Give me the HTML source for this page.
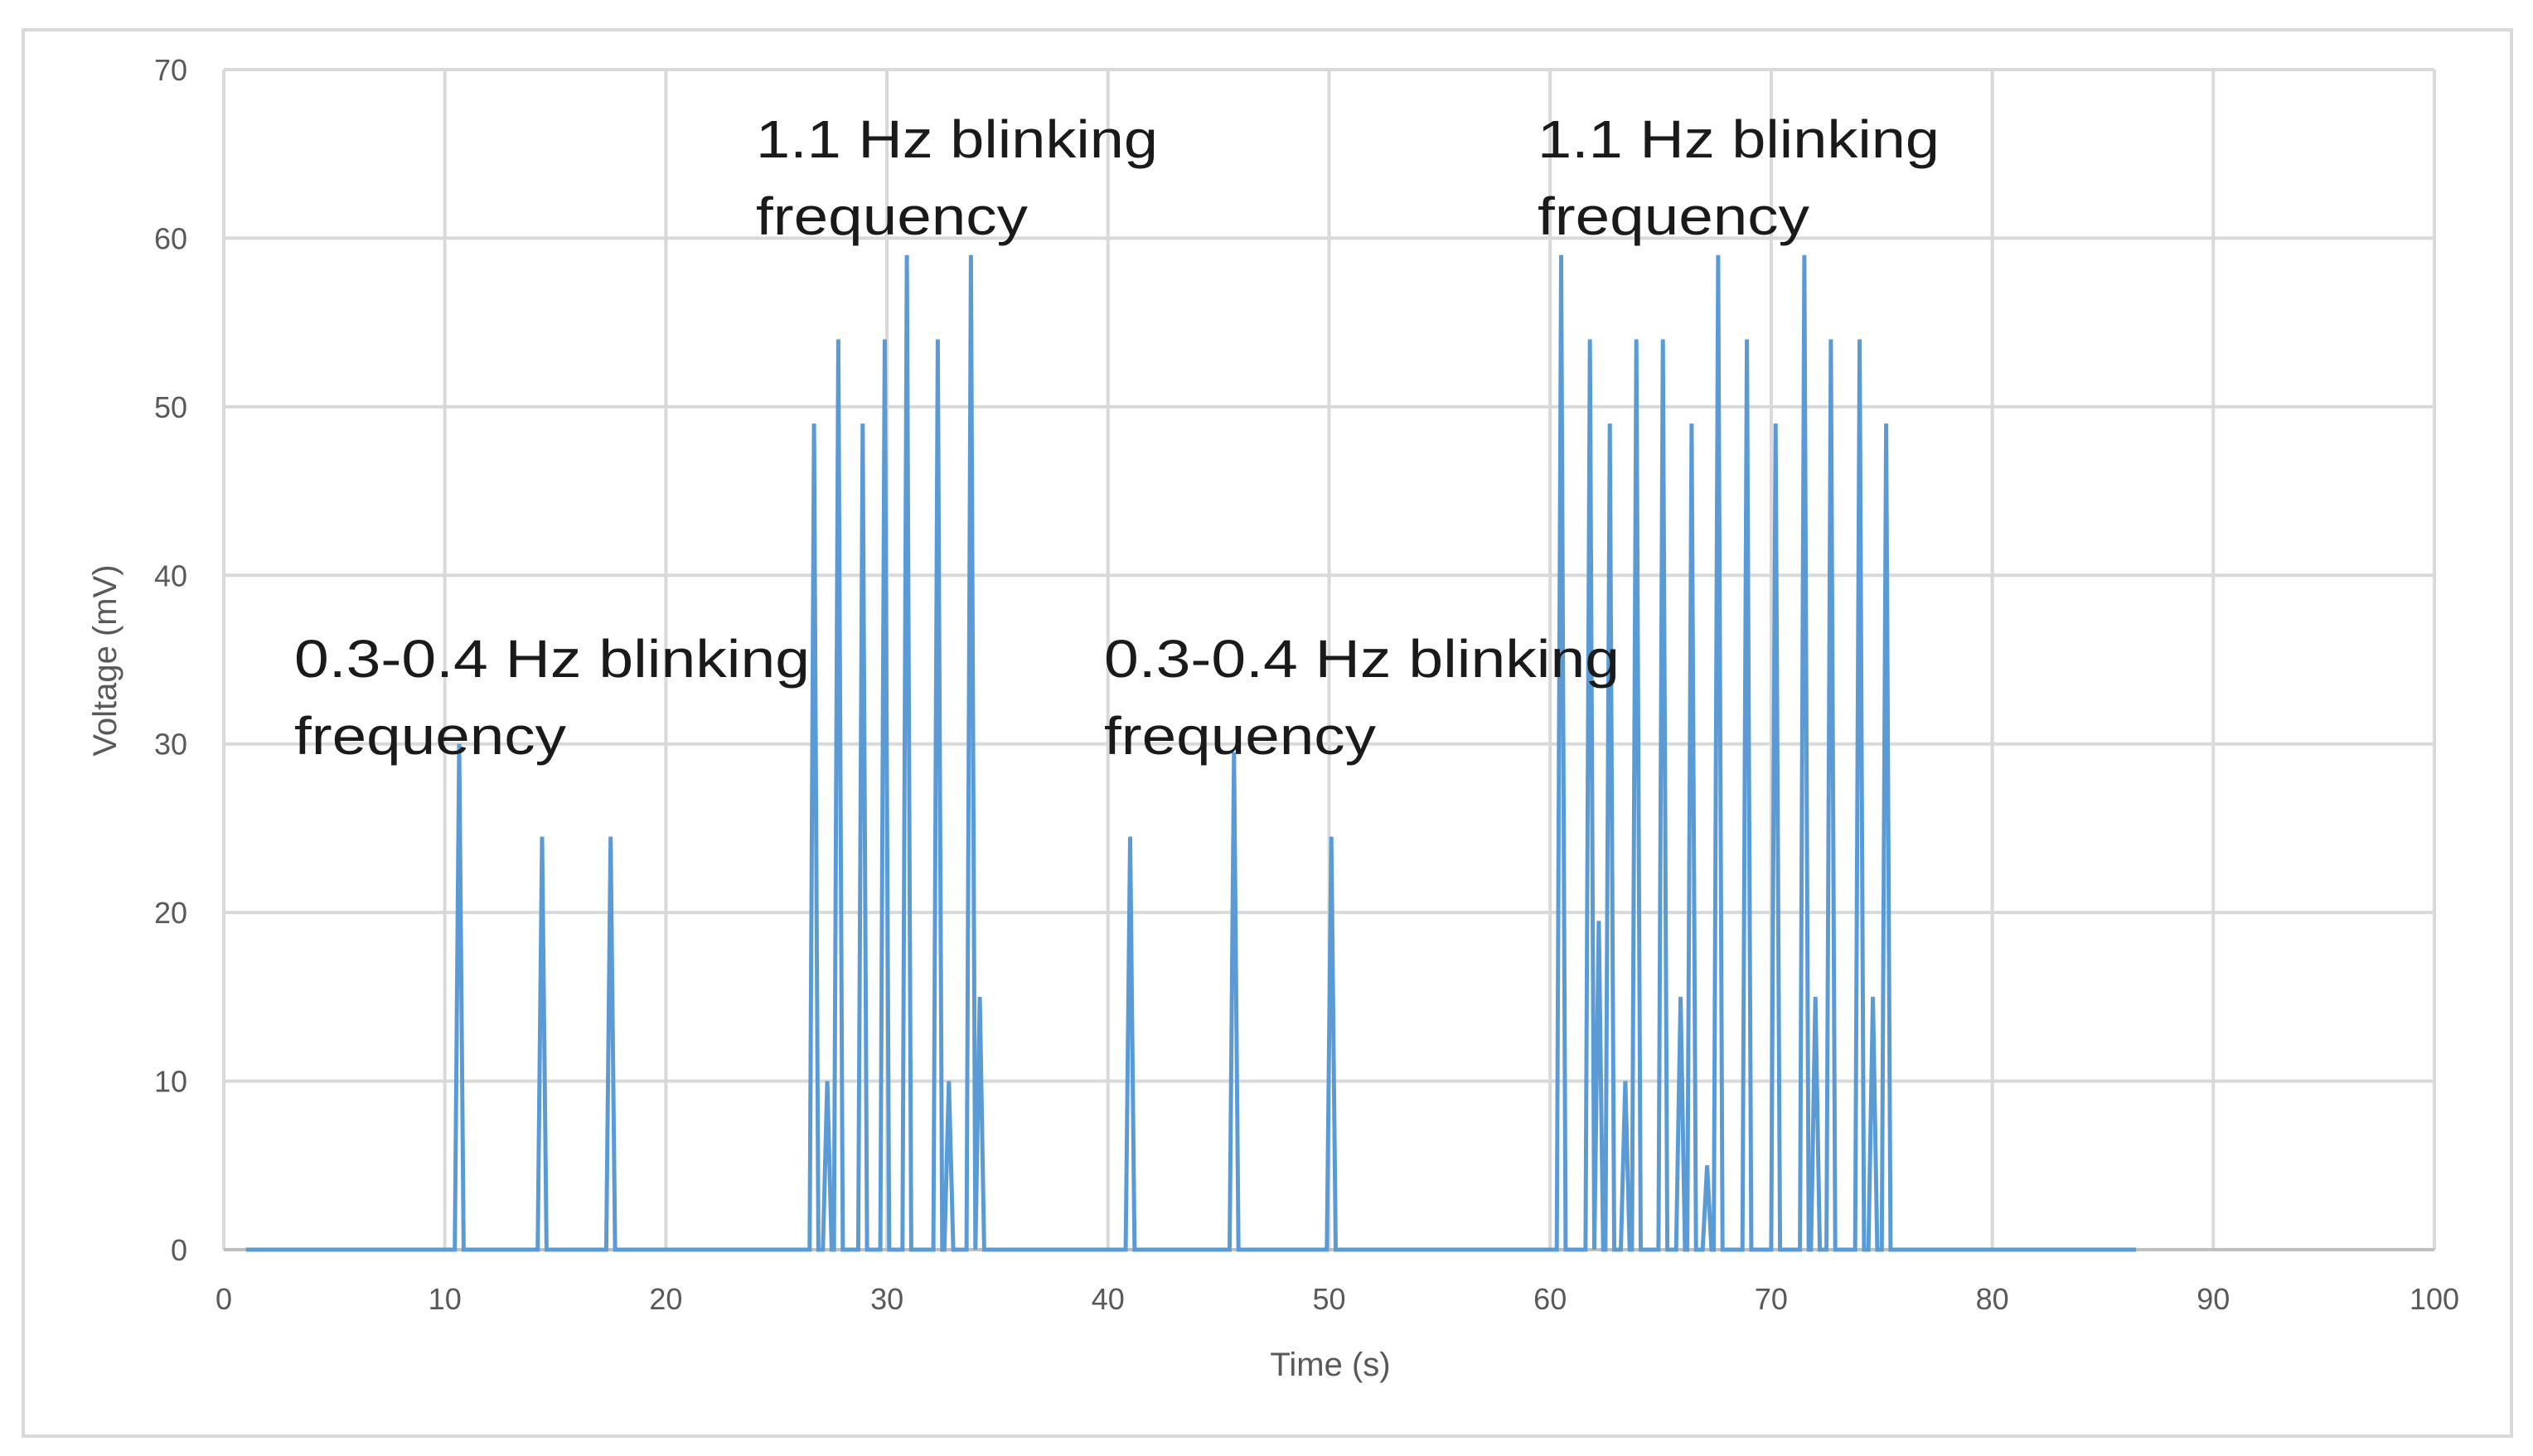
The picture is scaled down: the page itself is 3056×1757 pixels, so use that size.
<!DOCTYPE html>
<html><head><meta charset="utf-8"><style>
html,body{margin:0;padding:0;background:#fff;}
svg{display:block;}
text{font-family:"Liberation Sans",sans-serif;}
</style></head><body>
<svg id="chart" width="3056" height="1757" viewBox="0 0 3056 1757" xmlns="http://www.w3.org/2000/svg">
<rect x="0" y="0" width="3056" height="1757" fill="#fff"/>
<rect x="28" y="36" width="3002" height="1697" fill="#fff" stroke="#d9d9d9" stroke-width="4"/>
<g id="grid"></g>
<g id="series"></g>
<g id="ticks"></g>
<text x="1605" y="1660" font-size="40" fill="#595959" text-anchor="middle">Time (s)</text>
<text transform="translate(140,797) rotate(-90)" font-size="40" fill="#595959" text-anchor="middle">Voltage (mV)</text>
<g font-size="64" fill="#1a1a1a">
<text x="355" y="817" textLength="622" lengthAdjust="spacingAndGlyphs">0.3-0.4 Hz blinking</text>
<text x="355" y="910" textLength="328" lengthAdjust="spacingAndGlyphs">frequency</text></g>
<g font-size="64" fill="#1a1a1a">
<text x="912" y="190" textLength="485" lengthAdjust="spacingAndGlyphs">1.1 Hz blinking</text>
<text x="912" y="283" textLength="328" lengthAdjust="spacingAndGlyphs">frequency</text></g>
<g font-size="64" fill="#1a1a1a">
<text x="1332" y="817" textLength="622" lengthAdjust="spacingAndGlyphs">0.3-0.4 Hz blinking</text>
<text x="1332" y="910" textLength="328" lengthAdjust="spacingAndGlyphs">frequency</text></g>
<g font-size="64" fill="#1a1a1a">
<text x="1855" y="190" textLength="485" lengthAdjust="spacingAndGlyphs">1.1 Hz blinking</text>
<text x="1855" y="283" textLength="328" lengthAdjust="spacingAndGlyphs">frequency</text></g>
</svg>
<script>
const xTicks = [0,10,20,30,40,50,60,70,80,90,100];
const yTicks = [0,10,20,30,40,50,60,70];
const spikeTimes = [10.65,14.4,17.5,26.7,27.3,27.8,28.9,29.9,30.9,32.3,32.8,33.8,34.2,41.0,45.7,50.1,60.5,61.8,62.2,62.7,63.4,63.9,65.1,65.9,66.4,67.1,67.6,68.9,70.2,71.5,72.0,72.7,74.0,74.6,75.2];
const spikeValues = [30,24.5,24.5,49,10,54,49,54,59,54,10,59,15,24.5,29.5,24.5,59,54,19.5,49,10,54,54,15,49,5,59,54,49,59,15,54,54,15,49];
const seriesStart = 1;
const seriesEnd = 86.5;
const X0=270,X1=2937,Y0=1508,Y1=84;
const xs=v=>X0+(v-0)/(100-0)*(X1-X0);
const ys=v=>Y0-(v-0)/(70-0)*(Y0-Y1);
const NS="http://www.w3.org/2000/svg";
const grid=document.getElementById('grid'),ticks=document.getElementById('ticks'),series=document.getElementById('series');
function mk(tag,attrs,parent){const e=document.createElementNS(NS,tag);for(const k in attrs)e.setAttribute(k,attrs[k]);parent.appendChild(e);return e;}
xTicks.forEach(t=>{
  const l=mk('line',{x1:xs(t),x2:xs(t),y1:Y1,y2:Y0,stroke:'#d9d9d9','stroke-width':4},grid);
  
  
  const tx=mk('text',{x:xs(t),y:1580,'font-size':36,fill:'#595959','text-anchor':'middle'},ticks);
  tx.textContent=t;
  
  
});
yTicks.forEach(t=>{
  const l=mk('line',{x1:X0,x2:X1,y1:ys(t),y2:ys(t),stroke:t===0?'#bfbfbf':'#d9d9d9','stroke-width':4},grid);
  
  
  const tx=mk('text',{x:226,y:ys(t)+13,'font-size':36,fill:'#595959','text-anchor':'end'},ticks);
  tx.textContent=t;
  
  
});
let pts=[[seriesStart,0]];
spikeTimes.forEach((t,i)=>{pts.push([t-0.2,0],[t,spikeValues[i]],[t+0.2,0]);});
pts.push([seriesEnd,0]);
const d=pts.map((p,i)=>(i?'L':'M')+xs(p[0]).toFixed(1)+' '+ys(p[1]).toFixed(1)).join(' ');
const path=mk('path',{d:d,fill:'none',stroke:'#5b9bd5','stroke-width':5,'stroke-linejoin':'miter'},series);


</script>
</body></html>
